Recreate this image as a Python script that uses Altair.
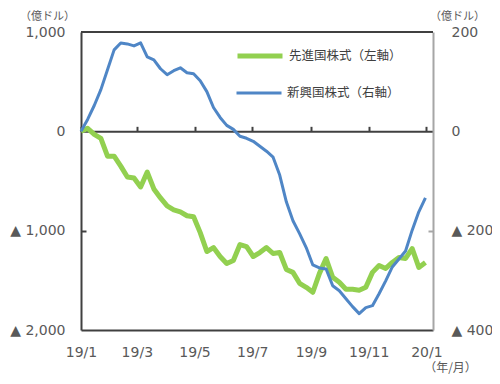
import altair as alt
import pandas as pd

# ---- data ----
start_date = "2019-01-01"
n_weeks = 53
developed = [0, 30, -30, -70, -250, -250, -350, -460, -470, -560,
             -410, -580, -670, -750, -790, -810, -850, -860, -1020, -1210,
             -1170, -1260, -1330, -1300, -1140, -1160, -1260, -1220, -1170, -1230,
             -1220, -1390, -1420, -1530, -1570, -1620, -1430, -1280, -1470, -1520,
             -1590, -1590, -1600, -1570, -1420, -1350, -1380, -1320, -1270, -1280,
             -1180, -1370, -1320]
emerging = [0, 24, 52, 84, 124, 164, 178, 176, 172, 178,
            150, 144, 126, 114, 122, 128, 118, 116, 102, 80,
            48, 28, 12, 4, -10, -14, -20, -30, -40, -52,
            -88, -142, -180, -206, -234, -269, -275, -277, -311, -321,
            -337, -353, -367, -355, -351, -327, -301, -273, -257, -241,
            -199, -162, -134]
series_names = ["先進国株式（左軸）", "新興国株式（右軸）"]
left_ticks = [-2000, -1000, 0, 1000]
right_ticks = [-400, -200, 0, 200]
month_ticks = [(2019, 1), (2019, 3), (2019, 5), (2019, 7), (2019, 9), (2019, 11), (2020, 1)]

dates = pd.date_range(start_date, periods=n_weeks, freq="7D").strftime("%Y-%m-%d")
df = pd.DataFrame({"date": dates, "dev": developed, "emg": emerging})

# ---- styling ----
W, H = 352, 298
DARK = "#404040"
GRAY = "#a6a6a6"
LABEL = "#595959"
GREEN = "#92d050"
BLUE = "#4f86c6"
NUM_FONT = "DejaVu Sans"
JP_FONT = "Noto Sans CJK JP"

x_dom = [alt.DateTime(year=2019, month=1, date=1, utc=True),
         alt.DateTime(year=2020, month=1, date=8, utc=True)]
x_vals = [alt.DateTime(year=y, month=m, date=1, utc=True) for y, m in month_ticks]
x_scale = alt.Scale(type="utc", domain=x_dom)
yl_scale = alt.Scale(domain=[-2000, 1000], nice=False, zero=False)
yr_scale = alt.Scale(domain=[-400, 200], nice=False, zero=False)

neg_expr = "datum.value < 0 ? '▲ ' + format(-datum.value, ',') : format(datum.value, ',')"

base = alt.Chart(df)

# green line with left axis + bottom labels axis
green = base.mark_line(strokeWidth=5, color=GREEN, strokeJoin="round").encode(
    x=alt.X("date:T", scale=x_scale, axis=alt.Axis(
        orient="bottom", values=x_vals, labelExpr="utcFormat(datum.value, '%y/%-m')",
        labelFlush=False, labelOverlap=False,
        ticks=False, grid=False, domain=True, domainColor=DARK, domainWidth=2,
        labelFont=NUM_FONT, labelFontSize=14, labelColor=LABEL, labelPadding=15,
        title="（年/月）", titleFont=JP_FONT, titleFontSize=12, titleFontWeight="normal",
        titleColor=LABEL, titleAngle=0, titleX=369, titleY=37,
        titleAlign="center", titleBaseline="middle")),
    y=alt.Y("dev:Q", scale=yl_scale, axis=alt.Axis(
        orient="left", values=left_ticks, labelExpr=neg_expr,
        ticks=False, grid=False, domainColor=DARK, domainWidth=2,
        labelFont=NUM_FONT, labelFontSize=14, labelColor=LABEL, labelPadding=16,
        title="（億ドル）", titleFont=JP_FONT, titleFontSize=11, titleFontWeight="normal",
        titleColor=LABEL, titleAngle=0, titleX=-34, titleY=-16,
        titleAlign="center", titleBaseline="middle")),
    color=alt.Color("s:N", scale=alt.Scale(domain=[series_names[0]], range=[GREEN]),
                    legend=alt.Legend(orient="none", legendX=154, legendY=-1, title=None,
                                      symbolType="stroke", symbolSize=2025,
                                      symbolStrokeWidth=5, labelFont=JP_FONT,
                                      labelFontSize=12.5, labelColor=DARK,
                                      labelOffset=4, padding=0)),
).transform_calculate(s=f"'{series_names[0]}'")

# blue line with right axis
blue = base.mark_line(strokeWidth=3, color=BLUE, strokeJoin="round").encode(
    x=alt.X("date:T", scale=x_scale, axis=None),
    y=alt.Y("emg:Q", scale=yr_scale, axis=alt.Axis(
        orient="right", values=right_ticks, labelExpr=neg_expr,
        ticks=False, grid=False, domainColor=GRAY, domainWidth=2,
        labelFont=NUM_FONT, labelFontSize=14, labelColor=LABEL, labelPadding=18,
        title="（億ドル）", titleFont=JP_FONT, titleFontSize=11, titleFontWeight="normal",
        titleColor=LABEL, titleAngle=0, titleX=24, titleY=-16,
        titleAlign="center", titleBaseline="middle")),
    color=alt.Color("s:N", scale=alt.Scale(domain=[series_names[1]], range=[BLUE]),
                    legend=alt.Legend(orient="none", legendX=154, legendY=37, title=None,
                                      symbolType="stroke", symbolSize=2025,
                                      symbolStrokeWidth=3, labelFont=JP_FONT,
                                      labelFontSize=12.5, labelColor=DARK,
                                      labelOffset=4, padding=0)),
).transform_calculate(s=f"'{series_names[1]}'")

# zero line with upward month ticks + inward tick on left axis
zero_axes = base.mark_line(opacity=0).encode(
    x=alt.X("date:T", scale=x_scale, axis=alt.Axis(
        orient="top", offset=-H / 3, values=x_vals, labels=False, grid=False,
        domainColor=DARK, domainWidth=2, tickColor=DARK, tickWidth=2, tickSize=5,
        title=None)),
    y=alt.Y("dev:Q", scale=yl_scale, axis=alt.Axis(
        orient="right", offset=-W, values=[-1000], labels=False, grid=False,
        domain=False, tickColor=DARK, tickWidth=2, tickSize=5, title=None)),
)

# inward tick on right axis
right_ticks_layer = base.mark_line(opacity=0).encode(
    x=alt.X("date:T", scale=x_scale, axis=None),
    y=alt.Y("emg:Q", scale=yr_scale, axis=alt.Axis(
        orient="left", offset=-W, values=[-200], labels=False, grid=False,
        domain=False, tickColor=GRAY, tickWidth=2, tickSize=5, title=None)),
)

# top border
top_border = alt.Chart(pd.DataFrame({"v": [left_ticks[-1]]})).mark_rule(
    color=DARK, strokeWidth=2).encode(
    y=alt.Y("v:Q", scale=yl_scale, axis=None))

chart = alt.layer(
    green, blue, zero_axes, right_ticks_layer, top_border
).resolve_scale(
    y="independent", color="independent"
).resolve_axis(
    x="independent", y="independent"
).resolve_legend(
    color="independent"
).properties(
    width=W, height=H,
    autosize=alt.AutoSizeParams(type="none"),
    padding={"left": 73, "top": 24, "right": 59, "bottom": 46},
).configure_view(stroke=None).configure_axis(grid=False)

chart.save("out.html", embed_options={"renderer": "svg", "actions": False})
